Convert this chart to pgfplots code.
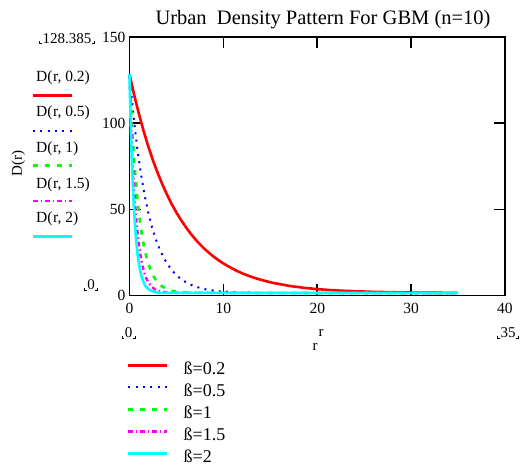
\documentclass[border=0pt]{standalone}
\usepackage{pgfplots}
\pgfplotsset{compat=1.18}
\usepackage{fontspec}
\setmainfont{Liberation Serif}

\definecolor{cRed}{RGB}{255,0,0}
\definecolor{cBlue}{RGB}{0,0,255}
\definecolor{cGreen}{RGB}{0,255,0}
\definecolor{cMag}{RGB}{255,0,255}
\definecolor{cCyan}{RGB}{0,255,255}

\tikzset{
  s02/.style={cRed, line width=2.6pt},
  s05/.style={cBlue, line width=2pt, dash pattern=on 2pt off 5.3pt},
  s1/.style={cGreen, line width=2.6pt, dash pattern=on 5pt off 7pt},
  s15/.style={cMag, line width=2.4pt, dash pattern=on 4.5pt off 3pt on 1.5pt off 3pt},
  s2/.style={cCyan, line width=2.6pt},
}

% placeholder limit with small corner brackets
\newcommand{\limnode}[2]{%
  \node[font=\fontsize{15}{15}\selectfont, inner sep=0pt] (L) at (#1) {#2};
  \draw[line width=0.9pt] ([xshift=-2.5pt,yshift=2.5pt]L.south west) -- ++(0,-2.5pt) -- ++(2pt,0);
  \draw[line width=0.9pt] ([xshift=2.5pt,yshift=2.5pt]L.south east) -- ++(0,-2.5pt) -- ++(-2pt,0);
}

\begin{document}
\begin{tikzpicture}[x=1pt,y=1pt]
\path[use as bounding box] (0,0) rectangle (522,465);

\begin{axis}[
  at={(129.5pt,169.5pt)}, anchor=south west,
  scale only axis, width=375.5pt, height=258.5pt,
  xmin=0, xmax=40, ymin=0, ymax=150,
  xtick={0,10,20,30,40}, ytick={0,50,100,150},
  tick align=inside, major tick length=11pt,
  axis line style={line width=1.6pt},
  every tick/.style={black, line width=1.6pt},
  tick label style={font=\fontsize{15.5}{15.5}\selectfont, /pgf/number format/assume math mode=true, inner sep=0pt},
  xticklabel style={yshift=-7pt},
  yticklabel style={xshift=-4pt},
  clip=false,
  legend style={at={(-0.007,-0.258)}, anchor=north west, draw=none, fill=none,
    font=\fontsize{18}{18}\selectfont, inner sep=0pt, row sep=8pt, column sep=15pt,
    nodes={inner sep=0pt, text height=12pt, text depth=2pt},
    cells={anchor=west}},
  legend image code/.code={\draw[#1] (0pt,4pt) -- (39pt,4pt);},
]
% beta = 0.2
\addplot[s02] coordinates {
(0,128.4)(0.5,116.3)(1,105.4)(1.5,95.5)(2,86.5)(2.5,78.4)(3,71.1)(3.5,64.5)(4,58.5)(4.5,53.0)
(5,48.1)(5.5,43.7)(6,39.7)(6.5,36.0)(7,32.7)(7.5,29.7)(8,27.0)(8.5,24.6)(9,22.4)(9.5,20.4)
(10,18.6)(10.5,17.0)(11,15.5)(11.5,14.1)(12,12.9)(12.5,11.8)(13,10.8)(13.5,9.9)(14,9.1)(14.5,8.4)
(15,7.7)(15.5,7.1)(16,6.6)(16.5,6.1)(17,5.6)(17.5,5.2)(18,4.9)(18.5,4.5)(19,4.2)(19.5,4.0)
(20,3.7)(20.5,3.5)(21,3.3)(21.5,3.1)(22,3.0)(22.5,2.8)(23,2.7)(23.5,2.6)(24,2.4)(24.5,2.3)
(25,2.3)(26,2.1)(27,2.0)(28,1.9)(29,1.8)(30,1.7)(31,1.7)(32,1.6)(33,1.6)(34,1.5)(35,1.5)};
% beta = 0.5
\addplot[s05] coordinates {
(0,128.4)(0.4,105.4)(0.8,86.5)(1.2,71.1)(1.6,58.5)(2,48.1)(2.4,39.7)(2.8,32.7)(3.2,27.0)(3.6,22.4)
(4,18.6)(4.4,15.5)(4.8,12.9)(5.2,10.8)(5.6,9.1)(6,7.7)(6.4,6.6)(6.8,5.6)(7.2,4.9)(7.6,4.2)
(8,3.7)(8.4,3.3)(8.8,3.0)(9.2,2.7)(9.6,2.4)(10,2.3)(12,1.7)(14,1.5)(20,1.4)(35,1.4)};
% beta = 1
\addplot[s1] coordinates {
(0,128.4)(0.1,116.3)(0.2,105.4)(0.3,95.5)(0.4,86.5)(0.5,78.4)(0.6,71.1)(0.7,64.5)(0.8,58.5)(0.9,53.0)
(1,48.1)(1.1,43.7)(1.2,39.7)(1.3,36.0)(1.4,32.7)(1.5,29.7)(1.6,27.0)(1.7,24.6)(1.8,22.4)(1.9,20.4)
(2,18.6)(2.1,17.0)(2.2,15.5)(2.3,14.1)(2.4,12.9)(2.5,11.8)(2.6,10.8)(2.7,9.9)(2.8,9.1)(2.9,8.4)
(3,7.7)(3.2,6.6)(3.4,5.6)(3.6,4.9)(3.8,4.2)(4,3.7)(4.2,3.3)(4.4,3.0)(4.6,2.7)(4.8,2.4)(5,2.3)
(6,1.7)(7,1.5)(35,1.4)};
% beta = 1.5
\addplot[s15] coordinates {
(0,128.4)(0.067,116.3)(0.133,105.4)(0.2,95.5)(0.267,86.5)(0.333,78.4)(0.4,71.1)(0.467,64.5)(0.533,58.5)(0.6,53.0)
(0.667,48.1)(0.733,43.7)(0.8,39.7)(0.867,36.0)(0.933,32.7)(1.0,29.7)(1.067,27.0)(1.133,24.6)(1.2,22.4)(1.267,20.4)
(1.333,18.6)(1.4,17.0)(1.467,15.5)(1.533,14.1)(1.6,12.9)(1.667,11.8)(1.733,10.8)(1.8,9.9)(1.867,9.1)(1.933,8.4)
(2.0,7.7)(2.4,4.9)(2.667,3.7)(3.067,2.7)(3.333,2.3)(4.0,1.7)(4.667,1.5)(35,1.4)};
% beta = 2
\addplot[s2] coordinates {
(0,128.4)(0.05,116.3)(0.1,105.4)(0.15,95.5)(0.2,86.5)(0.25,78.4)(0.3,71.1)(0.35,64.5)(0.4,58.5)(0.45,53.0)
(0.5,48.1)(0.55,43.7)(0.6,39.7)(0.65,36.0)(0.7,32.7)(0.75,29.7)(0.8,27.0)(0.85,24.6)(0.9,22.4)(0.95,20.4)
(1.0,18.6)(1.05,17.0)(1.1,15.5)(1.15,14.1)(1.2,12.9)(1.25,11.8)(1.3,10.8)(1.35,9.9)(1.4,9.1)(1.45,8.4)
(1.5,7.7)(1.7,5.6)(2.0,3.7)(2.2,3.0)(2.5,2.3)(3.0,1.7)(3.5,1.5)(35,1.4)};
\legend{ß=0.2, ß=0.5, ß=1, ß=1.5, ß=2}
\end{axis}

% title and axis names
\node[font=\fontsize{20.5}{20.5}\selectfont] at (323,445) {Urban\ \ Density Pattern For GBM (n=10)};
\node[font=\fontsize{15}{15}\selectfont, rotate=90] at (18.3,301.7) {D(r)};
\node[font=\fontsize{15}{15}\selectfont] at (321,132) {r};
\node[font=\fontsize{15}{15}\selectfont] at (315,118) {r};

% range placeholders
\limnode{67,426.5}{128.385}
\limnode{91,180}{0}
\limnode{128.5,132}{0}
\limnode{508,132}{35}

% trace names
\begin{scope}[every node/.style={font=\fontsize{15.5}{15.5}\selectfont, anchor=west, inner sep=0pt}]
\node at (36,387) {D(\kern0.5pt r, 0.2)};
\draw[s02] (33,369.3) -- (72,369.3);
\node at (36,352) {D(\kern0.5pt r, 0.5)};
\draw[s05] (33,334) -- (72,334);
\node at (36,316.7) {D(\kern0.5pt r, 1)};
\draw[s1] (33,299.3) -- (72,299.3);
\node at (36,280.7) {D(\kern0.5pt r, 1.5)};
\draw[s15] (33,264) -- (72,264);
\node at (36,246.7) {D(\kern0.5pt r, 2)};
\draw[s2] (33,228.3) -- (72,228.3);
\end{scope}
\end{tikzpicture}
\end{document}
